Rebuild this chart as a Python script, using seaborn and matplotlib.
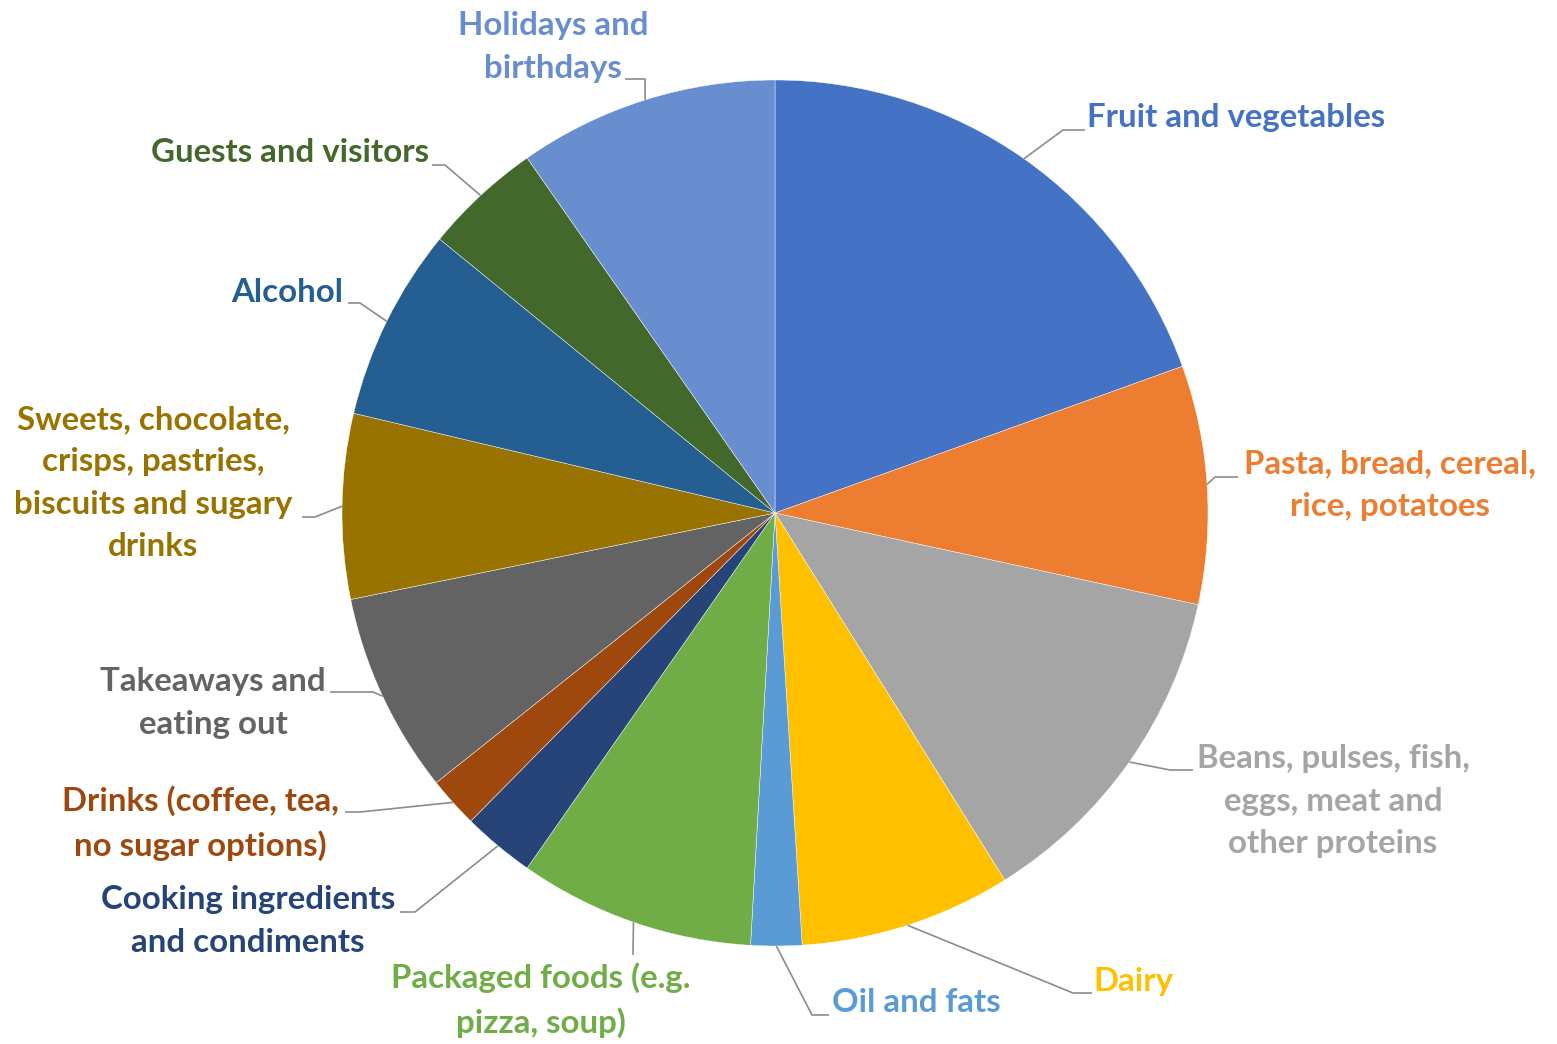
import numpy as np
import matplotlib.pyplot as plt
import seaborn as sns

# slices, clockwise from 12 o'clock (share of total, %)
categories = [
    "Fruit and vegetables",
    "Pasta, bread, cereal,\nrice, potatoes",
    "Beans, pulses, fish,\neggs, meat and\nother proteins",
    "Dairy",
    "Oil and fats",
    "Packaged foods (e.g.\npizza, soup)",
    "Cooking ingredients\nand condiments",
    "Drinks (coffee, tea,\nno sugar options)",
    "Takeaways and\neating out",
    "Sweets, chocolate,\ncrisps, pastries,\nbiscuits and sugary\ndrinks",
    "Alcohol",
    "Guests and visitors",
    "Holidays and\nbirthdays",
]
shares = [19.5, 8.9, 12.7, 7.9, 1.9, 8.8, 2.7, 1.9, 7.5, 6.9, 7.2, 4.4, 9.7]
colors = ["#4472C4", "#ED7D31", "#A5A5A5", "#FFC000", "#5B9BD5", "#70AD47",
          "#264478", "#9E480E", "#636363", "#997300", "#255E91", "#43682B",
          "#698ED0"]

# label layout in pixels from top-left: text centre, elbow of leader, end of leader
text_pos = [(1236, 118), (1390, 485), (1333, 801), (1133, 981), (916, 1003),
            (541, 1000), (248, 921), (200, 823), (213, 703), (153, 483),
            (287, 292), (290, 153), (553, 47)]
elbows = [(1063, 130), (1215, 477), (1170, 770), (1073, 993), (812, 1015),
          (633, 955), (415, 912), (360, 812), (373, 692), (315, 517),
          (360, 303), (445, 165), (645, 79)]
ends = [1085, 1238, 1193, 1092, 829, 633, 400, 345, 330, 302, 348, 432, 625]

W, H = 1557, 1044
cx, cy, r = 775, 513, 433

sns.set_theme(style="white")
plt.rcParams["font.family"] = ["Lato", "DejaVu Sans"]

fig = plt.figure(figsize=(W / 100, H / 100), dpi=100)
ax = fig.add_axes([0, 0, 1, 1])
ax.set_xlim(0, W)
ax.set_ylim(0, H)
ax.axis("off")

pal = sns.color_palette(colors)
wedges, _ = ax.pie(shares, colors=pal, startangle=90, counterclock=False,
                   center=(cx, H - cy), radius=r,
                   wedgeprops=dict(edgecolor="white", linewidth=0.3))
ax.set_xlim(0, W)
ax.set_ylim(0, H)

for w, lab, col, (tx, ty), (ex, ey), endx in zip(wedges, categories, colors,
                                                 text_pos, elbows, ends):
    mid = np.deg2rad((w.theta1 + w.theta2) / 2)
    px = cx + r * np.cos(mid)
    py = (H - cy) + r * np.sin(mid)
    ax.plot([px, ex, endx], [py, H - ey, H - ey], color="#8C8C8C", lw=1.2,
            solid_capstyle="butt")
    ax.text(tx, H - ty, lab, color=col, fontsize=23.8, fontweight="bold",
            ha="center", va="center", linespacing=1.55)

fig.savefig("out.png", dpi=100)
